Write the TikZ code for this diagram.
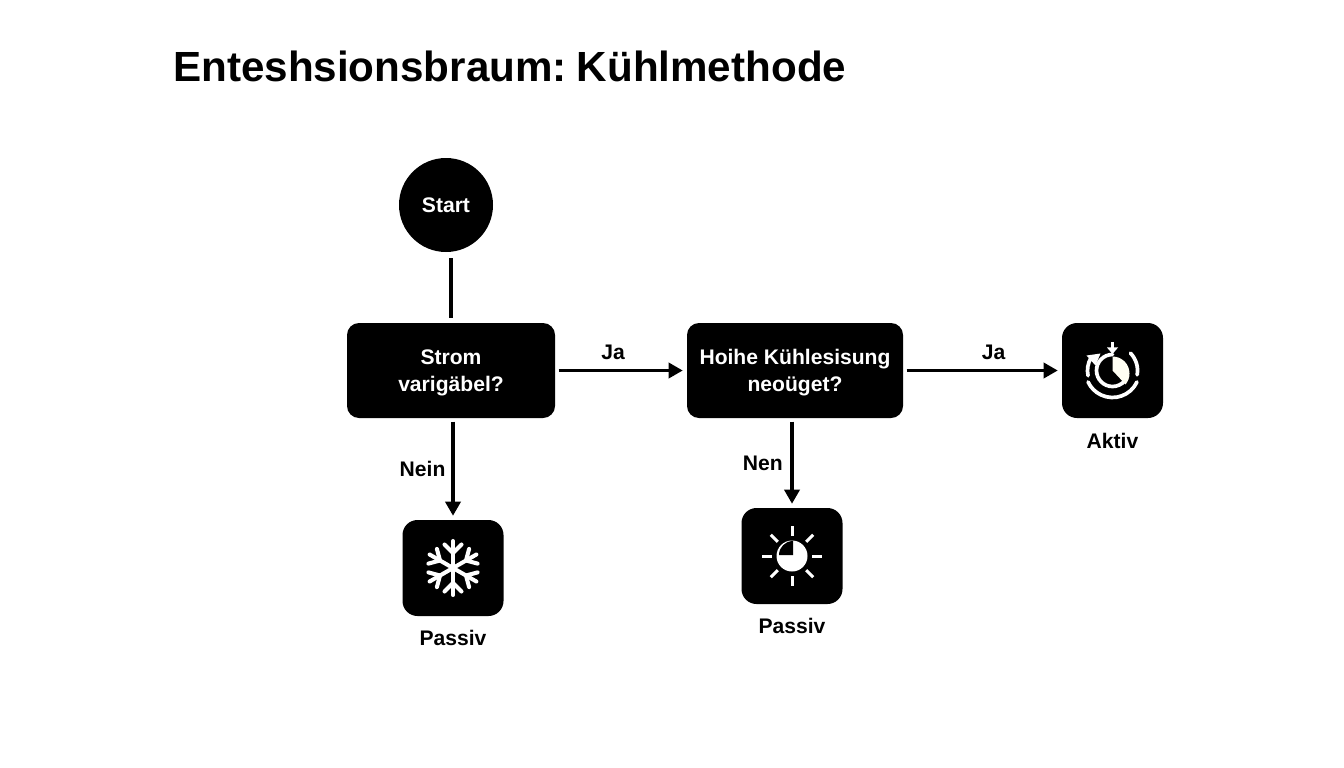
\documentclass[tikz,border=0pt]{standalone}
\usepackage{fontspec}
\setmainfont{Liberation Sans}
\usetikzlibrary{automata, positioning, arrows.meta}
\tikzset{
>={Triangle[length=8pt, width=8.5pt]}, % solid triangular arrow heads
every node/.style={font=\fontsize{12}{15.4}\selectfont\bfseries}, % all labels are bold
every state/.style={fill=black, draw=none, text=white, minimum size=1.88cm, inner sep=0pt}, % the start circle
frage/.style={fill=black, text=white, rounded corners=0.24cm, minimum height=1.9cm, align=center, text height=27pt, text depth=2.6pt}, % question boxes
kachel/.style={fill=black, rounded corners=0.3cm, minimum width=2.02cm, minimum height=1.92cm}, % icon tiles
pfeil/.style={->, line width=2pt, shorten <=1.8pt, shorten >=2.2pt}, % connectors
symbol/.style={draw=white, line width=2.2pt, line cap=round, x=0.02cm, y=0.02cm}, % icon strokes
}

\begin{document}
\begin{tikzpicture}
                \useasboundingbox[fill=white] (0,0) rectangle (26.88,-15.36);

                \node[anchor=west, font=\fontsize{24}{28}\selectfont\bfseries] (titel) at (3.34,-1.32) {\spaceskip=3.4pt\relax Enteshsionsbraum: Kühlmethode};

                \node[state] (start) at (8.92,-4.1) {Start};
                \node[frage, below of=start, xshift=0.1cm, node distance=3.31cm, minimum width=4.16cm] (strom) {Strom\\varigäbel?};
                \node[frage, right of=strom, node distance=6.88cm, minimum width=4.32cm] (kuehl) {Hoihe Kühlesisung\\neoüget?};
                \node[kachel, right of=kuehl, node distance=6.35cm, minimum height=1.9cm] (aktiv) {};
                \node[kachel, below of=strom, xshift=0.04cm, node distance=3.95cm] (kalt) {};
                \node[kachel, below of=kuehl, xshift=-0.06cm, node distance=3.71cm] (sonne) {};

                \node[below of=aktiv, node distance=1.41cm] (aktiv_text) {Aktiv};
                \node[below of=kalt, node distance=1.4cm] (kalt_text) {Passiv};
                \node[below of=sonne, node distance=1.4cm] (sonne_text) {Passiv};

                \path[pfeil]
                    (start.south -| strom.north) edge[-, line width=2.8pt, shorten <=3.4pt, shorten >=2.8pt] (strom.north)
                    (strom) edge[above, pos=0.44] node[yshift=1.7pt]{Ja} (kuehl)
                    (kuehl) edge[above, pos=0.57] node[yshift=1.7pt]{Ja} (aktiv)
                    (kalt.north |- strom.south) edge[left] node{Nein} (kalt.north)
                    (sonne.north |- kuehl.south) edge[left] node[xshift=-1pt]{Nen} (sonne.north);

                % snowflake
                \begin{scope}[symbol, line width=2.3pt, shift={(kalt.center)}]
                    \foreach \a in {30,90,...,330} {
                        \draw (0,0) -- (\a:27);
                        \draw (\a:15) -- ++(\a+45:12);
                        \draw (\a:15) -- ++(\a-45:12);
                    }
                \end{scope}

                % sun with dark quarter
                \begin{scope}[symbol, shift={(sonne.center)}]
                    \fill[white] (0,0) circle (15.5);
                    \fill[black] (1,1) -- (-13,1) arc (180:90:14) -- cycle;
                    \foreach \a in {0,45,...,315}
                        \draw[line width=1.7pt, line cap=butt] (\a:20) -- (\a:30);
                \end{scope}

                % clock with arrows
                \begin{scope}[symbol, line width=2.1pt, shift={(aktiv.center)}]
                    \draw (90:16) arc (90:320:16);
                    \fill[white!95!yellow] (0,0) -- (0,14) arc (90:-40:17) -- cycle;
                    \draw (44:25) arc (44:-10:25);
                    \draw (-25:27) arc (-25:-155:27);
                    \draw (192:25) arc (192:150:25);
                    \fill[white] (-26,15) -- (-12,17) -- (-17,5) -- cycle;
                    \draw[line width=1.7pt, line cap=butt] (0,28) -- (0,22);
                    \fill[white] (-5.5,23) -- (5.5,23) -- (0,16.5) -- cycle;
                \end{scope}
\end{tikzpicture}
\end{document}
